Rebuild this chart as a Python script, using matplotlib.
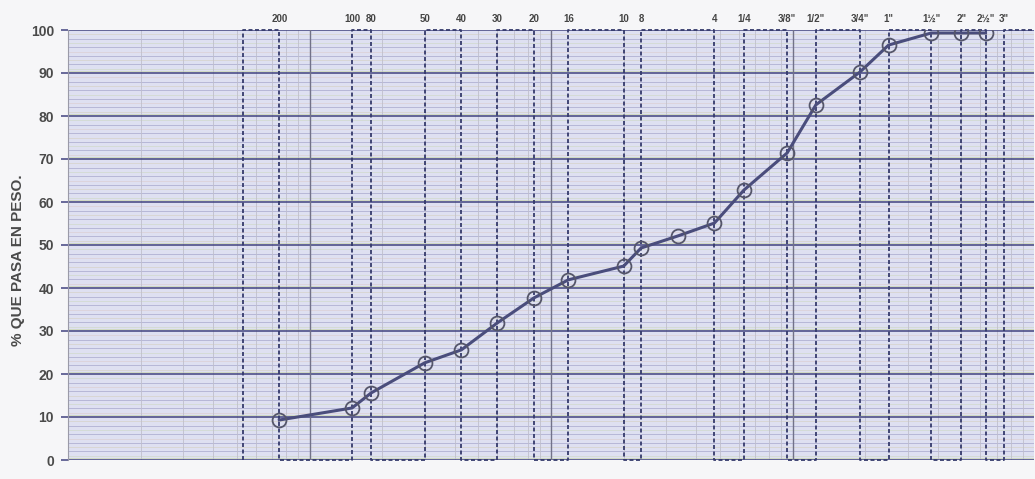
import matplotlib
matplotlib.use("Agg")
import matplotlib.pyplot as plt
import matplotlib.transforms as mtransforms
import numpy as np

# ---- data ----
sieve_mm = [0.075, 0.15, 0.18, 0.30, 0.425, 0.60, 0.85, 1.18, 2.00, 2.36, 3.35,
            4.75, 6.3, 9.5, 12.5, 19.0, 25.0, 37.5, 50.0, 63.0]
pct_pass = [9.3, 12.1, 15.6, 22.6, 25.6, 31.9, 37.7, 41.9, 45.1, 49.3, 52.1,
            55.1, 62.8, 71.4, 82.6, 90.2, 96.5, 99.3, 99.3, 99.3]

label_mm = [0.075, 0.15, 0.18, 0.30, 0.425, 0.60, 0.85, 1.18, 2.00, 2.36,
            4.75, 6.3, 9.5, 12.5, 19.0, 25.0, 37.5, 50.0, 63.0, 75.0]
label_txt = ["200", "100", "80", "50", "40", "30", "20", "16", "10", "8",
             "4", "1/4", "3/8\"", "1/2\"", "3/4\"", "1\"", "1½\"", "2\"", "2½\"", "3\""]
wave_start_mm = 0.053
y_ticks = list(range(0, 101, 10))
ylabel = "% QUE PASA EN PESO."

W, H = 1035, 479
fig = plt.figure(figsize=(W / 100, H / 100), dpi=100, facecolor="#f6f6f8")
ax = fig.add_axes([68 / W, 1 - 460 / H, (1034 - 68) / W, 430 / H])
ax.set_facecolor("#dee0f1")
ax.set_xscale("log")
ax.set_xlim(0.01, 100)
ax.set_ylim(0, 100)

# horizontal grid
for v in range(1, 100):
    if v % 10 == 0:
        continue
    if v % 2 == 0:
        ax.axhline(v, color="#b0b1d2", lw=0.6, zorder=1)
    else:
        col = ["#d6d3c8", "#d0dacb", "#dccfd4"][v % 3]
        ax.axhline(v, color=col, lw=0.5, zorder=1)
for v in y_ticks:
    ax.axhline(v + 0.4, color="#cfd9bb", lw=0.6, zorder=1)
    ax.axhline(v, color="#41437f", lw=1.1, zorder=2)

# vertical log grid
for dec in [0.01, 0.1, 1, 10]:
    for k in range(2, 10):
        ax.axvline(dec * k, color="#bfbfcc", lw=0.6, zorder=1)
for dec in [0.1, 1, 10]:
    ax.axvline(dec, color="#727289", lw=1.0, zorder=2)

# dashed square wave between sieves
wave_x = [wave_start_mm] + label_mm + [100]
xs, ys = [], []
top = True
xs.append(wave_x[0]); ys.append(0)
for i in range(len(wave_x) - 1):
    yv = 100 if top else 0
    xs += [wave_x[i], wave_x[i + 1]]
    ys += [yv, yv]
    if i + 1 < len(wave_x) - 1:
        xs.append(wave_x[i + 1]); ys.append(0 if top else 100)
    top = not top
ax.plot(xs, ys, color="#353a6c", lw=1.3, ls=(0, (2.2, 1.4)), zorder=3, clip_on=False)

# data curve
ax.plot(sieve_mm, pct_pass, color="#4a4d7c", lw=2.2, zorder=5)
ax.plot(sieve_mm, pct_pass, ls="none", marker="o", ms=10, mfc="none",
        mec="#55566a", mew=1.3, zorder=6)

# axes styling
for s in ["top", "right"]:
    ax.spines[s].set_visible(False)
ax.spines["left"].set_color("#9a9aa8")
ax.spines["left"].set_linewidth(0.8)
ax.spines["bottom"].set_visible(False)
ax.set_xticks([])
ax.minorticks_off()
ax.set_xticks([], minor=True)
ax.set_yticks(y_ticks)
ax.set_yticklabels([str(v) for v in y_ticks], fontsize=10, fontweight="bold",
                   color="#4a4a4a", family="Liberation Sans")
ax.tick_params(axis="y", length=5, width=1.1, color="#41437f", pad=5)

# sieve labels on top
trans = mtransforms.blended_transform_factory(ax.transData, ax.transAxes)
for xv, t in zip(label_mm, label_txt):
    ax.text(xv, 1 + 11 / 430, t, transform=trans, ha="center", va="center",
            fontsize=7, fontweight="bold", color="#444444", family="Liberation Sans")

fig.text(18 / W, 1 - 260 / H, ylabel, rotation=90, ha="center", va="center",
         fontsize=11, fontweight="bold", color="#4a4a4a", family="Liberation Sans")

fig.savefig("out.png", dpi=100, facecolor=fig.get_facecolor())
